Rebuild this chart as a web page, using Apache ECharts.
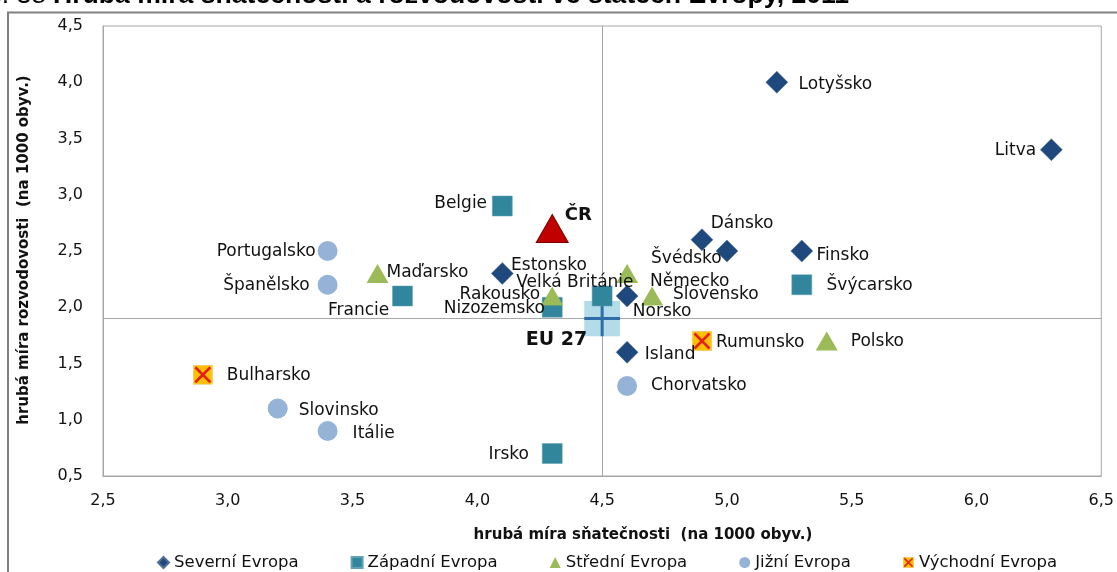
<!DOCTYPE html>
<html><head><meta charset="utf-8">
<script src="https://cdn.jsdelivr.net/npm/echarts@6/dist/echarts.min.js"></script>
<style>html,body{margin:0;padding:0;background:#fff}#c{width:1117px;height:572px}</style>
</head><body><div id="c"></div>
<script>
// ---- data ----
const severniNames = ['Lotyšsko','Litva','Dánsko','Švédsko','Finsko','Estonsko','Norsko','Island'];
const severniX = [5.2, 6.3, 4.9, 5.0, 5.3, 4.1, 4.6, 4.6];
const severniY = [4.0, 3.4, 2.6, 2.5, 2.5, 2.3, 2.1, 1.6];

const zapadniNames = ['Belgie','Francie','Velká Británie','Nizozemsko','Švýcarsko','Irsko'];
const zapadniX = [4.1, 3.7, 4.5, 4.3, 5.3, 4.3];
const zapadniY = [2.9, 2.1, 2.1, 2.0, 2.2, 0.7];

const stredniNames = ['Maďarsko','Rakousko','Německo','Slovensko','Polsko'];
const stredniX = [3.6, 4.3, 4.6, 4.7, 5.4];
const stredniY = [2.3, 2.1, 2.3, 2.1, 1.7];

const jizniNames = ['Portugalsko','Španělsko','Slovinsko','Itálie','Chorvatsko'];
const jizniX = [3.4, 3.4, 3.2, 3.4, 4.6];
const jizniY = [2.5, 2.2, 1.1, 0.9, 1.3];

const vychodniNames = ['Bulharsko','Rumunsko'];
const vychodniX = [2.9, 4.9];
const vychodniY = [1.4, 1.7];

const crNames = ['ČR'];
const crX = [4.3];
const crY = [2.7];

const euNames = ['EU 27'];
const euX = [4.5];
const euY = [1.9];

const xTickLabels = ['2,5','3,0','3,5','4,0','4,5','5,0','5,5','6,0','6,5'];
const yTickLabels = ['0,5','1,0','1,5','2,0','2,5','3,0','3,5','4,0','4,5'];

const titlePrefix = 'Graf č. 38';
const titleText = 'Hrubá míra sňatečnosti a rozvodovosti ve státech Evropy, 2011';
const xTitle = 'hrubá míra sňatečnosti  (na 1000 obyv.)';
const yTitle = 'hrubá míra rozvodovosti  (na 1000 obyv.)';

// ---- label placement (style) : [align, dx, dy] from marker centre ----
const labelPlace = {
  'Lotyšsko':['left',22,3], 'Litva':['right',-15,1], 'Dánsko':['left',9,-16],
  'Švédsko':['right',-5,8], 'Finsko':['left',15,5], 'Estonsko':['left',9,-8],
  'Norsko':['left',6,16], 'Island':['left',18,3],
  'Belgie':['right',-15,-2], 'Francie':['right',-13,15], 'Velká Británie':['center',-27,-13],
  'Nizozemsko':['right',-7,2], 'Švýcarsko':['left',25,1], 'Irsko':['right',-23,1],
  'Maďarsko':['left',9,-1], 'Rakousko':['right',-12,-1], 'Německo':['left',23,8],
  'Slovensko':['left',21,-1], 'Polsko':['left',24,1],
  'Portugalsko':['right',-12,1], 'Španělsko':['right',-18,1], 'Slovinsko':['left',21,2],
  'Itálie':['left',25,3], 'Chorvatsko':['left',24,0],
  'Bulharsko':['left',24,1], 'Rumunsko':['left',14,2],
  'ČR':['left',13,-13], 'EU 27':['right',-15,22]
};

const LABEL_FONT = 'DejaVu Sans';
function pts(names, xs, ys, size, bold, fs) {
  const w = Array.isArray(size) ? size[0] : size, h = Array.isArray(size) ? size[1] : size;
  return names.map((n, i) => {
    const p = labelPlace[n];
    return {
      name: n, value: [xs[i], ys[i]],
      label: {
        show: true, formatter: n, position: [w/2 + p[1], h/2 + p[2]],
        align: p[0], verticalAlign: 'middle',
        fontFamily: LABEL_FONT, fontSize: fs || 17, fontWeight: bold ? 'bold' : 'normal', color: '#111'
      }
    };
  });
}

const vychSvg = "data:image/svg+xml;utf8," + encodeURIComponent(
  "<svg xmlns='http://www.w3.org/2000/svg' width='20' height='20' viewBox='0 0 20 20'>" +
  "<rect x='0.5' y='0.5' width='19' height='19' fill='#FFC000' stroke='#F7C96A' stroke-width='1'/>" +
  "<path d='M2.5 2.5 L17.5 17.5 M17.5 2.5 L2.5 17.5' stroke='#E3201B' stroke-width='2.6'/></svg>");
const euSvg = "data:image/svg+xml;utf8," + encodeURIComponent(
  "<svg xmlns='http://www.w3.org/2000/svg' width='36' height='36' viewBox='0 0 36 36'>" +
  "<rect x='0' y='0' width='36' height='36' fill='#B4DBE8'/>" +
  "<path d='M18 0 L18 36 M0 18 L36 18' stroke='#2F6CA8' stroke-width='3'/></svg>");

const SZ = 20;

const chart = echarts.init(document.getElementById('c'), null, {renderer: 'canvas'});
chart.setOption({
  animation: false,
  backgroundColor: '#fff',
  grid: { left: 103, right: 14, top: 26, bottom: 96, show: true, borderColor: '#A6A6A6', borderWidth: 1 },
  xAxis: {
    type: 'value', min: 2.5, max: 6.5, interval: 0.5,
    axisLine: { show: true, lineStyle: { color: '#A6A6A6' } },
    axisTick: { show: false }, splitLine: { show: false },
    axisLabel: { margin: 17, fontFamily: LABEL_FONT, fontSize: 16, color: '#111',
      formatter: v => xTickLabels[Math.round((v - 2.5) / 0.5)] }
  },
  yAxis: {
    type: 'value', min: 0.5, max: 4.5, interval: 0.5,
    axisLine: { show: true, lineStyle: { color: '#A6A6A6' } },
    axisTick: { show: false }, splitLine: { show: false },
    axisLabel: { margin: 20, fontFamily: LABEL_FONT, fontSize: 16, color: '#111',
      formatter: v => yTickLabels[Math.round((v - 0.5) / 0.5)] }
  },
  legend: {
    top: 549, left: 152, itemGap: 52, itemWidth: 11, itemHeight: 11,
    data: ['Severní Evropa','Západní Evropa','Střední Evropa','Jižní Evropa','Východní Evropa'],
    textStyle: { fontFamily: LABEL_FONT, fontSize: 16.5, color: '#111' }
  },
  graphic: [
    { type: 'rect', shape: { x: 8, y: 12.5, width: 1200, height: 700 }, style: { fill: 'none', stroke: '#808080', lineWidth: 2 }, silent: true },
    { type: 'text', x: 46, y: 9, style: { text: titlePrefix, font: 'normal 26.6px "Liberation Sans", Arial', fill: '#000', textAlign: 'right', textVerticalAlign: 'bottom' } },
    { type: 'text', x: 53, y: 9, style: { text: titleText, font: 'bold 26.6px "Liberation Sans", Arial', fill: '#000', textAlign: 'left', textVerticalAlign: 'bottom' } },
    { type: 'text', x: 643, y: 535, style: { text: xTitle, font: 'bold 15px "DejaVu Sans"', fill: '#111', textAlign: 'center', textVerticalAlign: 'middle' } },
    { type: 'text', x: 24, y: 250, rotation: Math.PI / 2, style: { text: yTitle, font: 'bold 15px "DejaVu Sans"', fill: '#111', textAlign: 'center', textVerticalAlign: 'middle' } }
  ],
  series: [
    { name: 'cross', type: 'scatter', data: [], z: 1, silent: true,
      markLine: { silent: true, z: 1, symbol: 'none', label: { show: false },
        lineStyle: { color: '#A6A6A6', width: 1, type: 'solid' },
        data: [{ xAxis: euX[0] }, { yAxis: euY[0] }] } },
    { name: 'EU 27', type: 'scatter', z: 2, symbol: 'image://' + euSvg, symbolSize: 36,
      itemStyle: { opacity: 1 },
      data: pts(euNames, euX, euY, 36, true, 19) },
    { name: 'Severní Evropa', type: 'scatter', z: 3, symbol: 'diamond', symbolSize: 22,
      itemStyle: { color: '#1F497D', borderColor: '#4F6F9A', borderWidth: 0.5, opacity: 1 },
      data: pts(severniNames, severniX, severniY, 22) },
    { name: 'Západní Evropa', type: 'scatter', z: 3, symbol: 'rect', symbolSize: SZ,
      itemStyle: { color: '#31859C', borderColor: '#5FA3B5', borderWidth: 0.5, opacity: 1 },
      data: pts(zapadniNames, zapadniX, zapadniY, SZ) },
    { name: 'Střední Evropa', type: 'scatter', z: 3, symbol: 'triangle', symbolSize: [22, 19],
      itemStyle: { color: '#9BBB59', opacity: 1 },
      data: pts(stredniNames, stredniX, stredniY, [22, 19]) },
    { name: 'Jižní Evropa', type: 'scatter', z: 3, symbol: 'circle', symbolSize: SZ,
      itemStyle: { color: '#95B3D7', opacity: 1 },
      data: pts(jizniNames, jizniX, jizniY, SZ) },
    { name: 'Východní Evropa', type: 'scatter', z: 3, symbol: 'image://' + vychSvg, symbolSize: SZ,
      itemStyle: { opacity: 1 },
      data: pts(vychodniNames, vychodniX, vychodniY, SZ) },
    { name: 'ČR', type: 'scatter', z: 4, symbol: 'triangle', symbolSize: [32, 28],
      itemStyle: { color: '#C00000', borderColor: '#7A0000', borderWidth: 1, opacity: 1 },
      data: pts(crNames, crX, crY, [32, 28], true, 18) }
  ]
});
</script></body></html>
